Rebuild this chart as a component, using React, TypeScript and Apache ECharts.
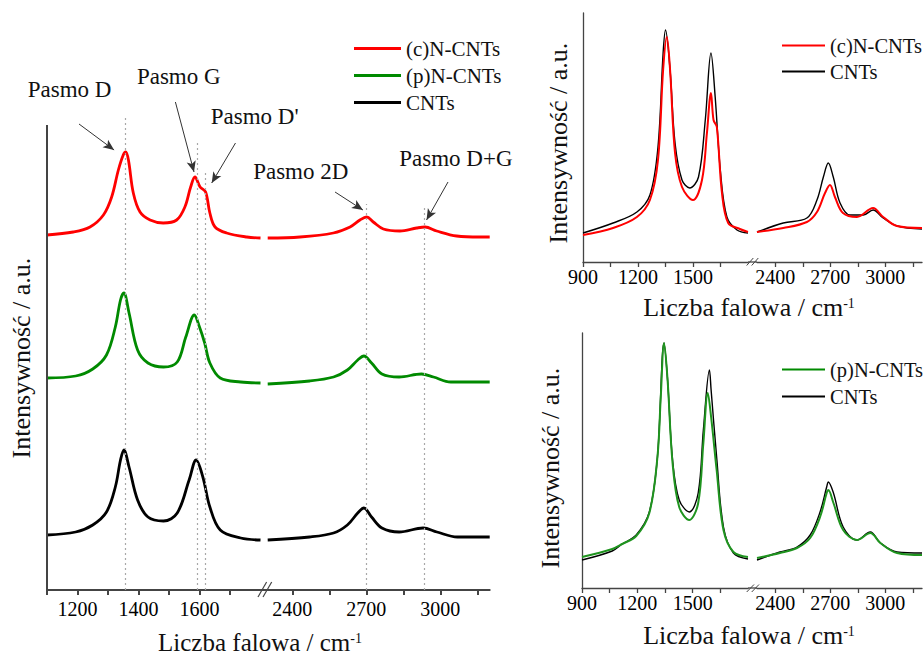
import React, { useEffect, useRef } from 'react';
import * as echarts from 'echarts';

const FONT = 'Liberation Serif';
const RED = '#ff0000';
const GREEN = '#008a00';
const BLACK = '#000000';
const AXIS = '#444444';

const NAME_C = '(c)N-CNTs';
const NAME_P = '(p)N-CNTs';
const NAME_0 = 'CNTs';

// ---- Left panel: stacked spectra [wavenumber cm-1, intensity a.u.] ----
const leftRedLow: [number, number][] = [
  [1100, 355], [1186, 358], [1241, 363], [1285, 375], [1312, 393], [1334, 420], [1350, 435], [1358, 438],
  [1367, 430], [1383, 397], [1405, 378], [1438, 370], [1481, 367], [1525, 370], [1552, 383], [1571, 403],
  [1585, 413], [1602, 403], [1620, 398], [1634, 377], [1651, 363], [1689, 357], [1755, 353], [1800, 352],
];
const leftRedHigh: [number, number][] = [
  [2300, 352], [2431, 353], [2566, 357], [2634, 363], [2674, 370], [2701, 373], [2728, 368], [2769, 361],
  [2836, 359], [2904, 362], [2938, 363], [2985, 359], [3066, 354], [3160, 353], [3200, 353],
];
const leftGreenLow: [number, number][] = [
  [1100, 212], [1194, 214], [1250, 221], [1295, 235], [1324, 263], [1341, 290], [1352, 297], [1369, 277],
  [1397, 240], [1431, 227], [1482, 223], [1527, 228], [1555, 253], [1583, 275], [1600, 263], [1617, 247],
  [1634, 227], [1668, 212], [1735, 208], [1800, 207],
];
const leftGreenHigh: [number, number][] = [
  [2300, 206], [2470, 209], [2567, 213], [2623, 220], [2665, 230], [2690, 234], [2721, 227], [2763, 216],
  [2833, 213], [2923, 216], [2972, 213], [3042, 208], [3200, 208],
];
const leftBlackLow: [number, number][] = [
  [1100, 55], [1194, 58], [1250, 65], [1295, 78], [1324, 103], [1341, 130], [1352, 140], [1369, 123],
  [1397, 90], [1431, 73], [1482, 69], [1527, 77], [1566, 110], [1589, 130], [1611, 113], [1634, 83],
  [1668, 60], [1735, 52], [1800, 50],
];
const leftBlackHigh: [number, number][] = [
  [2300, 50], [2470, 53], [2567, 57], [2623, 65], [2665, 77], [2690, 82], [2721, 73], [2763, 62],
  [2833, 58], [2930, 62], [2986, 58], [3069, 53], [3200, 53],
];

// band positions (dotted guide lines): wavenumber and top of guide (a.u.)
const bandLinesLow = [{ w: 1358, top: 475 }, { w: 1593, top: 450 }, { w: 1620, top: 417 }];
const bandLinesHigh = [{ w: 2700, top: 386 }, { w: 2935, top: 382 }];
// annotation texts and arrows (in data coordinates)
const bandLabelsLow = [
  { text: 'Pasmo D', at: [1174, 501] },
  { text: 'Pasmo G', at: [1532, 514] },
  { text: "Pasmo D'", at: [1781, 474] },
];
const bandLabelsHigh = [
  { text: 'Pasmo 2D', at: [2434, 419] },
  { text: 'Pasmo D+G', at: [3063, 432] },
];
const bandArrowsLow = [
  { from: [1205, 466], to: [1320, 440] },
  { from: [1521, 488], to: [1582, 418] },
  { from: [1718, 447], to: [1640, 407] },
];
const bandArrowsHigh = [
  { from: [2573, 398], to: [2686, 380] },
  { from: [3031, 408], to: [2944, 370] },
];

// ---- Right top: (c)N-CNTs vs CNTs ----
const topRedLow: [number, number][] = [
  [900, 27], [1064, 34], [1194, 45], [1265, 62], [1309, 102], [1337, 192], [1357, 225], [1375, 192],
  [1402, 109], [1440, 75], [1500, 62], [1549, 82], [1576, 129], [1598, 169], [1612, 142], [1630, 135],
  [1658, 69], [1692, 39], [1756, 33], [1800, 30],
];
const topBlackLow: [number, number][] = [
  [900, 29], [1064, 39], [1194, 50], [1265, 67], [1309, 115], [1337, 209], [1350, 232], [1375, 192],
  [1402, 119], [1440, 82], [1482, 74], [1530, 85], [1567, 142], [1598, 209], [1621, 165], [1649, 92],
  [1685, 45], [1740, 32], [1800, 29],
];
const topRedHigh: [number, number][] = [
  [2300, 30], [2443, 34], [2572, 40], [2627, 50], [2671, 69], [2698, 77], [2725, 65], [2769, 49],
  [2845, 45], [2933, 54], [2988, 45], [3064, 36], [3200, 34],
];
const topBlackHigh: [number, number][] = [
  [2300, 30], [2443, 39], [2572, 44], [2627, 62], [2662, 85], [2689, 99], [2716, 85], [2753, 59],
  [2807, 47], [2880, 47], [2933, 52], [2988, 44], [3064, 36], [3200, 33],
];

// ---- Right bottom: (p)N-CNTs vs CNTs ----
const botGreenLow: [number, number][] = [
  [900, 31], [1064, 39], [1118, 44], [1194, 52], [1265, 75], [1309, 131], [1327, 191], [1345, 245],
  [1364, 208], [1391, 125], [1427, 81], [1482, 68], [1530, 85], [1558, 145], [1582, 195], [1600, 171],
  [1630, 118], [1667, 58], [1721, 36], [1800, 31],
];
const botBlackLow: [number, number][] = [
  [900, 28], [1064, 37], [1118, 44], [1194, 53], [1265, 76], [1309, 131], [1345, 245], [1364, 208],
  [1391, 128], [1427, 88], [1482, 76], [1530, 95], [1558, 158], [1591, 218], [1600, 198], [1630, 131],
  [1667, 61], [1721, 35], [1800, 29],
];
const botGreenHigh: [number, number][] = [
  [2300, 30], [2425, 35], [2518, 40], [2590, 50], [2644, 71], [2680, 95], [2689, 98], [2717, 85],
  [2770, 58], [2845, 48], [2918, 55], [2973, 45], [3064, 35], [3200, 33],
];
const botBlackHigh: [number, number][] = [
  [2300, 28], [2425, 36], [2518, 41], [2590, 53], [2644, 76], [2680, 101], [2689, 106], [2717, 95],
  [2770, 61], [2845, 48], [2918, 56], [2973, 45], [3064, 36], [3200, 35],
];

// axis ticks / labels
const leftLowTicks = [1100, 1200, 1300, 1400, 1500, 1600, 1700];
const leftLowLabels = [1200, 1400, 1600];
const highTicks = [2400, 2550, 2700, 2850, 3000, 3150];
const highLabels = [2400, 2700, 3000];
const rightLowTicks = [900, 1050, 1200, 1350, 1500, 1650];
const rightLowLabels = [900, 1200, 1500];

const X_TITLE = '{m|Liczba falowa / cm}{s|-1}';
const Y_TITLE = 'Intensywność / a.u.';

function line(name: string, data: [number, number][], idx: number, color: string, width: number, extra: any = {}) {
  return {
    type: 'line', name, data, xAxisIndex: idx, yAxisIndex: idx,
    showSymbol: false, symbol: 'none', smooth: 0.35, clip: false,
    color, lineStyle: { color, width }, silent: true, animation: false,
    ...extra,
  };
}

// label interval: step that divides min, so that label slots fall on the wanted values
function xAxis(idx: number, min: number, max: number, step: number, ticks: number[], labels: number[], thick: boolean, margin: number) {
  const ls = { color: AXIS, width: thick ? 2 : 1.3 };
  return {
    type: 'value', gridIndex: idx, min, max, interval: step,
    axisLine: { show: true, onZero: false, lineStyle: ls },
    axisTick: { show: true, length: 5, customValues: ticks, lineStyle: ls },
    axisLabel: {
      show: true, margin, fontSize: 20, fontFamily: FONT, color: '#000',
      showMinLabel: true, showMaxLabel: true,
      formatter: (v: number) => (labels.indexOf(Math.round(v)) >= 0 ? '{t|' + Math.round(v) + '}' : ''),
      rich: { t: { fontSize: 20, fontFamily: FONT, color: '#000', lineHeight: 22 } },
    },
    splitLine: { show: false },
  };
}

function yAxis(idx: number, max: number, showLine: boolean) {
  return {
    type: 'value', gridIndex: idx, min: 0, max, show: true,
    axisLine: { show: showLine, lineStyle: { color: AXIS, width: 1.3 } },
    axisTick: { show: false }, axisLabel: { show: false }, splitLine: { show: false },
  };
}

function guideLines(list: { w: number; top: number }[]) {
  return {
    silent: true, symbol: ['none', 'none'], animation: false,
    label: { show: false },
    lineStyle: { color: '#a8a8a8', type: [2, 3], width: 1.2 },
    data: list.map((b) => [{ coord: [b.w, 0] }, { coord: [b.w, b.top] }]),
  };
}

function arrows(list: { from: number[]; to: number[] }[]) {
  return {
    silent: true, symbol: ['none', 'arrow'], symbolSize: [7, 11], animation: false,
    label: { show: false },
    lineStyle: { color: '#333', type: 'solid', width: 1 },
    itemStyle: { color: '#333' },
    data: list.map((a) => [{ coord: a.from }, { coord: a.to }]),
  };
}

function labels(list: { text: string; at: number[] }[]) {
  return {
    silent: true, symbol: 'circle', symbolSize: 1, animation: false,
    itemStyle: { color: 'rgba(0,0,0,0)' },
    label: { show: true, position: 'inside', formatter: '{b}', fontSize: 23, fontFamily: FONT, color: '#111' },
    data: list.map((l) => ({ name: l.text, coord: l.at, value: 0 })),
  };
}

function titleText(x: number, y: number, size: number) {
  return {
    type: 'text', x, y, silent: true,
    style: {
      text: X_TITLE, align: 'center', verticalAlign: 'middle', textAlign: 'center', textVerticalAlign: 'middle',
      fill: '#111', fontFamily: FONT, fontSize: size,
      rich: {
        m: { fontSize: size, fontFamily: FONT, fill: '#111', lineHeight: 22 },
        s: { fontSize: 14, fontFamily: FONT, fill: '#111', verticalAlign: 'top', lineHeight: 10 },
      },
    },
  };
}

function yTitle(x: number, y: number) {
  return {
    type: 'text', x, y, rotation: Math.PI / 2, silent: true,
    style: {
      text: Y_TITLE, align: 'center', verticalAlign: 'middle', textAlign: 'center', textVerticalAlign: 'middle',
      fill: '#111', fontFamily: FONT, fontSize: 26,
    },
  };
}

function seg(x1: number, y1: number, x2: number, y2: number, w: number) {
  return { type: 'line', silent: true, shape: { x1, y1, x2, y2 }, style: { stroke: AXIS, lineWidth: w } };
}

export default function App() {
  const ref = useRef<HTMLDivElement>(null);
  useEffect(() => {
    if (!ref.current) return;
    const chart = echarts.init(ref.current, undefined, { renderer: 'svg' });
    const legendText = { fontSize: 20.5, fontFamily: FONT, color: '#111' };
    chart.setOption({
      animation: false,
      backgroundColor: '#ffffff',
      textStyle: { fontFamily: FONT },
      grid: [
        { left: 47, top: 0, width: 213.5, height: 590, outerBoundsMode: 'none' },
        { left: 267.7, top: 0, width: 222, height: 590, outerBoundsMode: 'none' },
        { left: 583, top: 13, width: 165, height: 249, outerBoundsMode: 'none' },
        { left: 757, top: 13, width: 165, height: 249, outerBoundsMode: 'none' },
        { left: 582, top: 333, width: 166, height: 255, outerBoundsMode: 'none' },
        { left: 757, top: 333, width: 165, height: 255, outerBoundsMode: 'none' },
      ],
      xAxis: [
        xAxis(0, 1100, 1800, 100, leftLowTicks, leftLowLabels, true, 8),
        xAxis(1, 2300, 3200, 50, highTicks, highLabels, true, 8),
        xAxis(2, 900, 1800, 150, rightLowTicks, rightLowLabels, false, 4),
        xAxis(3, 2300, 3200, 50, highTicks, highLabels, false, 4),
        xAxis(4, 900, 1800, 150, rightLowTicks, rightLowLabels, false, 4),
        xAxis(5, 2300, 3200, 50, highTicks, highLabels, false, 4),
      ],
      yAxis: [
        yAxis(0, 590, false),
        yAxis(1, 590, false),
        yAxis(2, 249, true),
        yAxis(3, 249, false),
        yAxis(4, 255, true),
        yAxis(5, 255, false),
      ],
      legend: [
        {
          left: 349, top: 33, orient: 'vertical', icon: 'rect', itemWidth: 47, itemHeight: 3, itemGap: 6,
          selectedMode: false, textStyle: { ...legendText, fontSize: 21, lineHeight: 21 },
          data: [NAME_C, NAME_P, NAME_0],
        },
        {
          left: 777, top: 30, orient: 'vertical', icon: 'rect', itemWidth: 43, itemHeight: 2, itemGap: 5,
          selectedMode: false, textStyle: { ...legendText, lineHeight: 20 },
          data: [NAME_C, NAME_0],
        },
        {
          left: 777, top: 354, orient: 'vertical', icon: 'rect', itemWidth: 43, itemHeight: 2, itemGap: 6,
          selectedMode: false, textStyle: { ...legendText, lineHeight: 20 },
          data: [NAME_P, NAME_0],
        },
      ],
      series: [
        // left panel, low range
        line(NAME_0, leftBlackLow, 0, BLACK, 2.8, { markLine: guideLines(bandLinesLow) }),
        line(NAME_P, leftGreenLow, 0, GREEN, 2.8, {
          markLine: {
            silent: true, symbol: ['none', 'none'], label: { show: false }, animation: false,
            lineStyle: { color: AXIS, type: 'solid', width: 2 },
            data: [[{ coord: [1100, 0] }, { coord: [1100, 465] }]],
          },
        }),
        line(NAME_C, leftRedLow, 0, RED, 2.8, { markLine: arrows(bandArrowsLow), markPoint: labels(bandLabelsLow) }),
        // left panel, high range
        line(NAME_0, leftBlackHigh, 1, BLACK, 2.8, { markLine: guideLines(bandLinesHigh) }),
        line(NAME_P, leftGreenHigh, 1, GREEN, 2.8),
        line(NAME_C, leftRedHigh, 1, RED, 2.8, { markLine: arrows(bandArrowsHigh), markPoint: labels(bandLabelsHigh) }),
        // right top
        line(NAME_0, topBlackLow, 2, BLACK, 1.4),
        line(NAME_C, topRedLow, 2, RED, 2),
        line(NAME_0, topBlackHigh, 3, BLACK, 1.4),
        line(NAME_C, topRedHigh, 3, RED, 2),
        // right bottom
        line(NAME_0, botBlackLow, 4, BLACK, 1.4),
        line(NAME_P, botGreenLow, 4, '#1f941f', 2),
        line(NAME_0, botBlackHigh, 5, BLACK, 1.4),
        line(NAME_P, botGreenHigh, 5, '#1f941f', 2),
      ],
      graphic: [
        yTitle(21, 358),
        yTitle(558, 143),
        yTitle(550, 468),
        titleText(260, 642, 25),
        titleText(749, 307, 26),
        titleText(749, 635, 26),
        // axis break bridges and marks
        seg(260.5, 590, 267.7, 590, 2),
        seg(258, 597, 266.6, 582, 1.2),
        seg(263, 597, 271.7, 582, 1.2),
        seg(748, 262, 757, 262, 1.3),
        seg(746.7, 265.5, 753.3, 258, 1),
        seg(751.7, 265.5, 758.3, 258, 1),
        seg(748, 588, 757, 588, 1.3),
        seg(746.7, 592, 754, 584.5, 1),
        seg(751.7, 592, 759, 584.5, 1),
      ],
    });
    return () => chart.dispose();
  }, []);
  return <div ref={ref} style={{ position: 'fixed', left: 0, top: 0, width: 924, height: 657, background: '#fff' }} />;
}
